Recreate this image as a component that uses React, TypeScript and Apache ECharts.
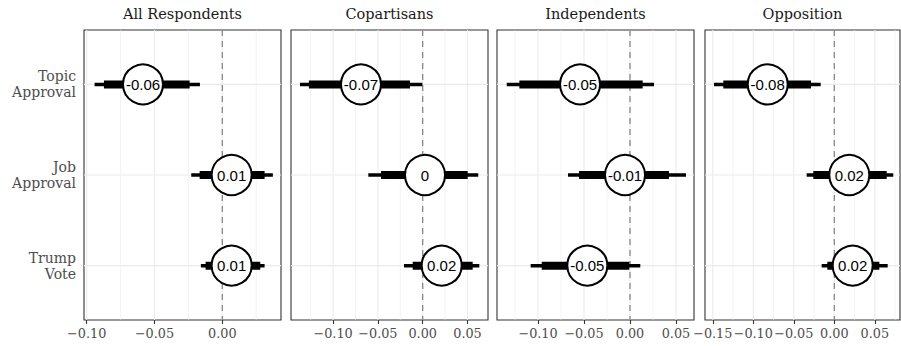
import React, { useEffect, useRef } from "react";
import * as echarts from "echarts";

// ---- data ----
const PANELS = ["All Respondents", "Copartisans", "Independents", "Opposition"];
const CATEGORIES = ["Topic\nApproval", "Job\nApproval", "Trump\nVote"];
const ROWS = [1, 2, 3];

// point estimates (Topic, Job, Trump) per panel
const EST_ALL = [-0.0585, 0.0069, 0.0069];
const EST_COP = [-0.0689, 0.0026, 0.0212];
const EST_IND = [-0.0543, -0.0054, -0.0464];
const EST_OPP = [-0.0822, 0.0185, 0.0227];

// printed labels
const LAB_ALL = ["-0.06", "0.01", "0.01"];
const LAB_COP = ["-0.07", "0", "0.02"];
const LAB_IND = ["-0.05", "-0.01", "-0.05"];
const LAB_OPP = ["-0.08", "0.02", "0.02"];

// outer interval [lo, hi] (thin) and inner interval [lo, hi] (thick)
const OUTER_ALL = [[-0.0942, -0.0165], [-0.0229, 0.0373], [-0.0158, 0.0312]];
const INNER_ALL = [[-0.0873, -0.0241], [-0.0167, 0.0312], [-0.0123, 0.028]];
const OUTER_COP = [[-0.137, -0.0004], [-0.0607, 0.062], [-0.0209, 0.0632]];
const INNER_COP = [[-0.127, -0.0142], [-0.0465, 0.0502], [-0.0112, 0.0558]];
const OUTER_IND = [[-0.134, 0.0261], [-0.0674, 0.0609], [-0.108, 0.0112]];
const INNER_IND = [[-0.1203, 0.0138], [-0.0554, 0.0424], [-0.096, -0.0007]];
const OUTER_OPP = [[-0.1485, -0.0168], [-0.0341, 0.0728], [-0.0156, 0.0659]];
const INNER_OPP = [[-0.137, -0.0288], [-0.0259, 0.0647], [-0.0086, 0.0556]];

// x-axis ticks per panel
const TICKS_ALL = [-0.1, -0.05, 0];
const TICKS_COP = [-0.1, -0.05, 0, 0.05];
const TICKS_IND = [-0.1, -0.05, 0, 0.05];
const TICKS_OPP = [-0.15, -0.1, -0.05, 0, 0.05];
const MINOR_ALL = [-0.075, -0.025, 0.025];
const MINOR_COP = [-0.125, -0.075, -0.025, 0.025];
const MINOR_IND = [-0.125, -0.075, -0.025, 0.025];
const MINOR_OPP = [-0.125, -0.075, -0.025, 0.025, 0.075];

const X_RANGES = [
  [-0.102, 0.0433],
  [-0.147, 0.0729],
  [-0.1446, 0.0696],
  [-0.1596, 0.0811],
];

const ESTS = [EST_ALL, EST_COP, EST_IND, EST_OPP];
const LABS = [LAB_ALL, LAB_COP, LAB_IND, LAB_OPP];
const OUTERS = [OUTER_ALL, OUTER_COP, OUTER_IND, OUTER_OPP];
const INNERS = [INNER_ALL, INNER_COP, INNER_IND, INNER_OPP];
const TICKS = [TICKS_ALL, TICKS_COP, TICKS_IND, TICKS_OPP];
const MINORS = [MINOR_ALL, MINOR_COP, MINOR_IND, MINOR_OPP];

// ---- layout ----
const GRIDS = [
  { left: 84, width: 197 },
  { left: 291, width: 197 },
  { left: 497, width: 197 },
  { left: 705, width: 195 },
];
const TOP = 30;
const HEIGHT = 290;

const SERIF = "DejaVu Serif";
const SANS = "Liberation Sans";

function fmtTick(v: number): string {
  const r = Math.round(v * 100) / 100;
  const s = Math.abs(r).toFixed(2);
  return r < 0 ? "\u2212" + s : s;
}

export default function App() {
  const ref = useRef<HTMLDivElement>(null);
  useEffect(() => {
    document.body.style.margin = "0";
    if (!ref.current) return;
    const chart = echarts.init(ref.current, null, { renderer: "svg" });

    const grid = GRIDS.map((g) => ({
      left: g.left,
      width: g.width,
      top: TOP,
      height: HEIGHT,
      show: true,
      borderColor: "#333333",
      borderWidth: 1.1,
      backgroundColor: "#ffffff",
      containLabel: false,
    }));

    const xAxis = PANELS.map((_, i) => ({
      type: "value",
      gridIndex: i,
      min: X_RANGES[i][0],
      max: X_RANGES[i][1],
      axisLine: { show: false },
      splitLine: { show: false },
      axisTick: {
        show: true,
        length: 4,
        customValues: TICKS[i],
        lineStyle: { color: "#333333", width: 1.1 },
      },
      axisLabel: {
        show: true,
        customValues: TICKS[i],
        formatter: (v: number) => fmtTick(v),
        fontFamily: SERIF,
        fontSize: 12.8,
        color: "#4d4d4d",
        margin: 7,
        hideOverlap: false,
        showMinLabel: true,
        showMaxLabel: true,
      },
    }));

    const yAxis = PANELS.map((_, i) => ({
      type: "value",
      gridIndex: i,
      min: 0.4,
      max: 3.6,
      inverse: true,
      axisLine: { show: false },
      splitLine: { show: false },
      axisTick: {
        show: i === 0,
        length: 4,
        customValues: ROWS,
        lineStyle: { color: "#333333", width: 1.1 },
      },
      axisLabel: {
        show: i === 0,
        customValues: ROWS,
        formatter: (v: number) => CATEGORIES[Math.round(v) - 1] || "",
        fontFamily: SERIF,
        fontSize: 14,
        lineHeight: 16,
        color: "#4d4d4d",
        margin: 8,
        align: "right",
      },
    }));

    const series: any[] = [];
    PANELS.forEach((_, i) => {
      // background grid lines: kind 0 = vertical, 1 = horizontal, 2 = zero line
      const gridData: number[][] = [];
      TICKS[i].forEach((t) => gridData.push([0, t, 1.1]));
      MINORS[i].forEach((t) => gridData.push([0, t, 0.6]));
      ROWS.forEach((r) => gridData.push([1, r, 1.1]));
      gridData.push([2, 0, 1.2]);
      series.push({
        type: "custom",
        xAxisIndex: i,
        yAxisIndex: i,
        z: 1,
        silent: true,
        data: gridData,
        renderItem: (params: any, api: any) => {
          const kind = api.value(0);
          const v = api.value(1);
          const w = api.value(2);
          const xr = X_RANGES[i];
          if (kind === 1) {
            const a = api.coord([xr[0], v]);
            const b = api.coord([xr[1], v]);
            return {
              type: "line",
              shape: { x1: a[0], y1: a[1], x2: b[0], y2: b[1] },
              style: { stroke: "#ebebeb", lineWidth: w },
            };
          }
          const a = api.coord([v, 0.4]);
          const b = api.coord([v, 3.6]);
          if (kind === 2) {
            return {
              type: "line",
              z2: 5,
              shape: { x1: a[0], y1: a[1], x2: b[0], y2: b[1] },
              style: { stroke: "#7f7f7f", lineWidth: w, lineDash: [6, 5] },
            };
          }
          return {
            type: "line",
            shape: { x1: a[0], y1: a[1], x2: b[0], y2: b[1] },
            style: { stroke: "#ebebeb", lineWidth: w },
          };
        },
      });

      // intervals
      const ivData = ROWS.map((r, k) => [
        r,
        OUTERS[i][k][0],
        OUTERS[i][k][1],
        INNERS[i][k][0],
        INNERS[i][k][1],
      ]);
      series.push({
        type: "custom",
        xAxisIndex: i,
        yAxisIndex: i,
        z: 2,
        silent: true,
        data: ivData,
        encode: { x: [1, 2, 3, 4], y: 0 },
        renderItem: (params: any, api: any) => {
          const y = api.value(0);
          const a = api.coord([api.value(1), y]);
          const b = api.coord([api.value(2), y]);
          const c = api.coord([api.value(3), y]);
          const d = api.coord([api.value(4), y]);
          return {
            type: "group",
            children: [
              {
                type: "line",
                shape: { x1: a[0], y1: a[1], x2: b[0], y2: b[1] },
                style: { stroke: "#000000", lineWidth: 3.5, lineCap: "butt" },
              },
              {
                type: "line",
                shape: { x1: c[0], y1: c[1], x2: d[0], y2: d[1] },
                style: { stroke: "#000000", lineWidth: 8, lineCap: "butt" },
              },
            ],
          };
        },
      });

      // point estimates
      series.push({
        type: "scatter",
        xAxisIndex: i,
        yAxisIndex: i,
        z: 3,
        silent: true,
        symbol: "circle",
        symbolSize: 40,
        itemStyle: { color: "#ffffff", borderColor: "#000000", borderWidth: 2, opacity: 1 },
        label: {
          show: true,
          position: "inside",
          formatter: (p: any) => p.data[2],
          fontFamily: SANS,
          fontSize: 15,
          color: "#000000",
        },
        data: ROWS.map((r, k) => [ESTS[i][k], r, LABS[i][k]]),
      });
    });

    const graphic = PANELS.map((p, i) => ({
      type: "text",
      x: GRIDS[i].left + GRIDS[i].width / 2,
      y: 14,
      style: {
        text: p,
        textAlign: "center",
        textVerticalAlign: "middle",
        fontFamily: SERIF,
        fontSize: 14.5,
        fill: "#1a1a1a",
      },
    }));

    chart.setOption({
      animation: false,
      backgroundColor: "#ffffff",
      grid,
      xAxis,
      yAxis,
      series,
      graphic,
    });
    return () => chart.dispose();
  }, []);
  return <div ref={ref} style={{ width: 901, height: 346 }} />;
}
